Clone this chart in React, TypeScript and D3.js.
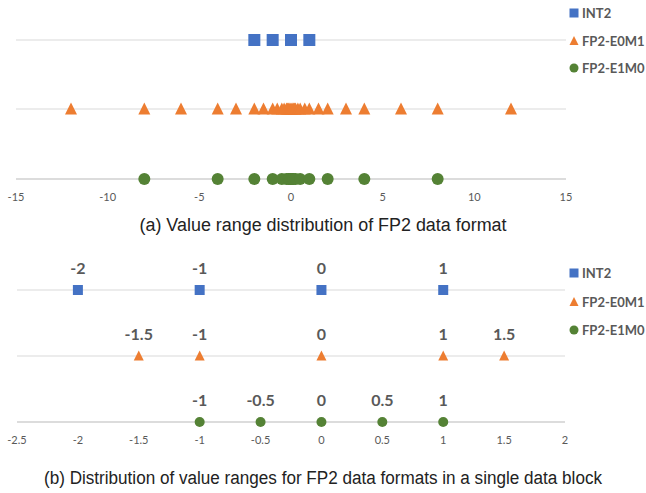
import { useEffect, useRef } from 'react'
import * as d3 from 'd3'

// Series names and colours
const seriesNames = ['INT2', 'FP2-E0M1', 'FP2-E1M0']
const seriesColors = ['#4472C4', '#ED7D31', '#548235']
const seriesShapes = ['square', 'triangle', 'circle']

// (a) full value range of each format
const int2Values = [-2, -1, 0, 1]
const e0m1Values = [
  -12, -8, -6, -4, -3, -2, -1.5, -1, -0.75, -0.5, -0.375, -0.25, -0.1875, -0.125, -0.0625,
  0, 0.0625, 0.125, 0.1875, 0.25, 0.375, 0.5, 0.75, 1, 1.5, 2, 3, 4, 6, 8, 12,
]
const e1m0Values = [
  -8, -4, -2, -1, -0.5, -0.25, -0.125, -0.0625,
  0, 0.0625, 0.125, 0.25, 0.5, 1, 2, 4, 8,
]
const ticksA = [-15, -10, -5, 0, 5, 10, 15]

// (b) values inside a single data block
const int2Block = [-2, -1, 0, 1]
const e0m1Block = [-1.5, -1, 0, 1, 1.5]
const e1m0Block = [-1, -0.5, 0, 0.5, 1]
const ticksB = [-2.5, -2, -1.5, -1, -0.5, 0, 0.5, 1, 1.5, 2]

const captionA = '(a) Value range distribution of FP2 data format'
const captionB = '(b) Distribution of value ranges for FP2 data formats in a single data block'

const WIDTH = 646
const HEIGHT = 493
const LABEL_FONT = 'Lato, "Open Sans", "Liberation Sans", sans-serif'
const CAPTION_FONT = '"Liberation Sans Narrow", "Liberation Sans", Arial, sans-serif'

function drawMarker(g, shape, cx, cy, size, color) {
  if (shape === 'square') {
    g.append('rect')
      .attr('x', cx - size / 2)
      .attr('y', cy - size / 2)
      .attr('width', size)
      .attr('height', size)
      .attr('fill', color)
  } else if (shape === 'triangle') {
    const h = size * 0.9
    g.append('path')
      .attr('d', `M${cx},${cy - h / 2 - 1} L${cx + size / 2},${cy + h / 2} L${cx - size / 2},${cy + h / 2} Z`)
      .attr('fill', color)
  } else {
    g.append('circle')
      .attr('cx', cx)
      .attr('cy', cy)
      .attr('r', size / 2)
      .attr('fill', color)
  }
}

function drawPanel(svg, opts) {
  const { domain, range, rows, series, ticks, tickY, markerSize, showLabels, labelOffset, legendY, caption, captionY, captionWidth } = opts
  const x = d3.scaleLinear().domain(domain).range(range)
  const g = svg.append('g')

  // horizontal guide lines, one per series
  rows.forEach((ry, i) => {
    g.append('line')
      .attr('x1', range[0])
      .attr('x2', range[1])
      .attr('y1', ry)
      .attr('y2', ry)
      .attr('stroke', i === rows.length - 1 ? '#d0d0d0' : '#d9d9d9')
      .attr('stroke-width', i === rows.length - 1 ? 1.5 : 1)
  })

  // markers
  series.forEach((values, i) => {
    values.forEach(v => {
      drawMarker(g, seriesShapes[i], x(v), rows[i], markerSize, seriesColors[i])
    })
    if (showLabels) {
      g.selectAll(null)
        .data(values)
        .enter()
        .append('text')
        .attr('x', d => x(d))
        .attr('y', rows[i] - labelOffset)
        .attr('text-anchor', 'middle')
        .attr('fill', '#595959')
        .attr('font-family', LABEL_FONT)
        .attr('font-size', '16px')
        .attr('font-weight', 'bold')
        .text(d => String(d))
    }
  })

  // tick labels (no axis line drawn, Excel style)
  g.selectAll(null)
    .data(ticks)
    .enter()
    .append('text')
    .attr('x', d => x(d))
    .attr('y', tickY)
    .attr('text-anchor', 'middle')
    .attr('fill', '#595959')
    .attr('font-family', LABEL_FONT)
    .attr('font-size', '11px')
    .text(d => String(d))

  // legend
  seriesNames.forEach((name, i) => {
    const ly = legendY[i]
    drawMarker(g, seriesShapes[i], 574, ly, 9, seriesColors[i])
    g.append('text')
      .attr('x', 582)
      .attr('y', ly)
      .attr('dy', '0.36em')
      .attr('fill', '#595959')
      .attr('font-family', LABEL_FONT)
      .attr('font-size', '13px')
      .attr('font-weight', 'bold')
      .text(name)
  })

  // caption
  g.append('text')
    .attr('x', WIDTH / 2)
    .attr('y', captionY)
    .attr('text-anchor', 'middle')
    .attr('fill', '#222')
    .attr('font-family', CAPTION_FONT)
    .attr('font-size', '18px')
    .attr('textLength', captionWidth)
    .attr('lengthAdjust', 'spacingAndGlyphs')
    .text(caption)
}

export default function App() {
  const ref = useRef(null)

  useEffect(() => {
    if (!ref.current) return
    const svg = d3.select(ref.current)
    svg.selectAll('*').remove()

    svg.append('rect').attr('width', WIDTH).attr('height', HEIGHT).attr('fill', '#fff')

    drawPanel(svg, {
      domain: [-15, 15],
      range: [16, 566],
      rows: [40, 109, 179],
      series: [int2Values, e0m1Values, e1m0Values],
      ticks: ticksA,
      tickY: 201,
      markerSize: 12,
      showLabels: false,
      labelOffset: 0,
      legendY: [13, 41, 68],
      caption: captionA,
      captionY: 231,
      captionWidth: 367,
    })

    drawPanel(svg, {
      domain: [-2.5, 2],
      range: [17, 565],
      rows: [290, 356, 422],
      series: [int2Block, e0m1Block, e1m0Block],
      ticks: ticksB,
      tickY: 444,
      markerSize: 10,
      showLabels: true,
      labelOffset: 16,
      legendY: [273, 302, 330],
      caption: captionB,
      captionY: 484,
      captionWidth: 558,
    })
  }, [])

  return (
    <svg
      ref={ref}
      width={WIDTH}
      height={HEIGHT}
      style={{ position: 'absolute', left: 0, top: 0, display: 'block' }}
    />
  )
}
